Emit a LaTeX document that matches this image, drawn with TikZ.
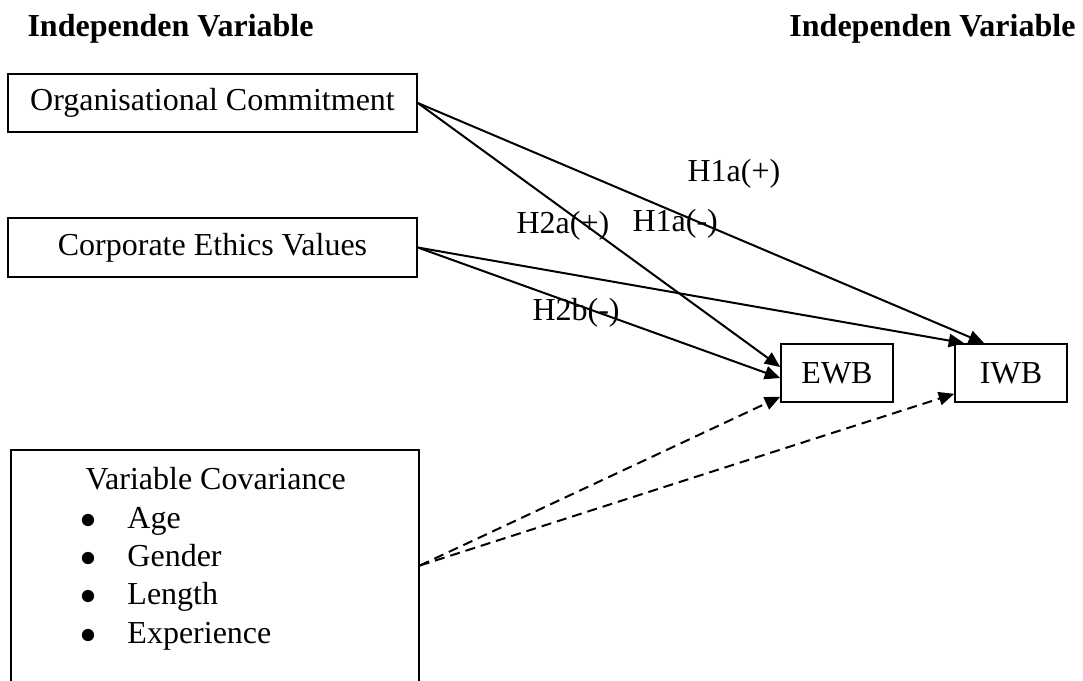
\documentclass[tikz,border=0pt]{standalone}
\usepackage{fontspec}
\setmainfont{Liberation Serif}
\usepackage{tikz}
\usetikzlibrary{arrows.meta,calc}

\begin{document}
\begin{tikzpicture}[x=0.375pt, y=-0.375pt,
     every node/.style={font=\fontsize{12}{14.4}\selectfont},
     box/.style={draw, line width=0.6pt, inner sep=0pt},
     heading/.style={font=\fontsize{12}{14.4}\selectfont\bfseries, inner sep=0pt},
     hyp/.style={inner sep=0pt, anchor=base west},
     link/.style={line width=0.75pt, -{Triangle[length=5.8pt, width=5pt]}},
     dlink/.style={link, dash pattern=on 3.75pt off 2.25pt}]
     \useasboundingbox (0,0) rectangle (1083,680);

     \node[heading, anchor=base west] (hl) at (27,36) {Independen Variable};
     \node[heading, anchor=base east] (hr) at (1076,36) {Independen Variable};

     \node[box, minimum width=153.4pt, minimum height=21.75pt] (oc) at (212.5,103) {Organisational Commitment};
     \node[box, minimum width=153.4pt, minimum height=22pt] (cev) at (212.5,247.5) {Corporate Ethics Values};
     \node[box, minimum width=42pt, minimum height=21.75pt] (ewb) at (837,373) {EWB};
     \node[box, minimum width=42pt, minimum height=21.75pt] (iwb) at (1011,373) {IWB};
     \node[box, minimum width=153pt, minimum height=88.1pt] (cov) at (215,567.5) {};
     \node[align=left, anchor=north west, inner sep=0pt] (covtext) at (80,467) {\hspace*{1.9pt}Variable Covariance\\
          \makebox[17.6pt][l]{$\bullet$}Age\\
          \makebox[17.6pt][l]{$\bullet$}Gender\\
          \makebox[17.6pt][l]{$\bullet$}Length\\
          \makebox[17.6pt][l]{$\bullet$}Experience};

     \draw[link] (oc.east) -- ($(ewb.west)+(0,-6)$);
     \draw[link] (oc.east) -- ($(iwb.north west)+(30,0)$);
     \draw[link] (cev.east) -- ($(ewb.west)+(0,5)$);
     \draw[link] (cev.east) -- ($(iwb.north west)+(10,0)$);
     \draw[dlink] ($(cov.east)+(0,-2)$) -- ($(ewb.south west)+(0,-6)$);
     \draw[dlink] ($(cov.east)+(0,-2)$) -- ($(iwb.south west)+(0,-9)$);

     \node[hyp] (h1p) at (687,181) {H1a(+)};
     \node[hyp] (h2a) at (516,233) {H2a(+)};
     \node[hyp] (h1m) at (632,231) {H1a(-)};
     \node[hyp] (h2b) at (532,320) {H2b(-)};
\end{tikzpicture}
\end{document}
